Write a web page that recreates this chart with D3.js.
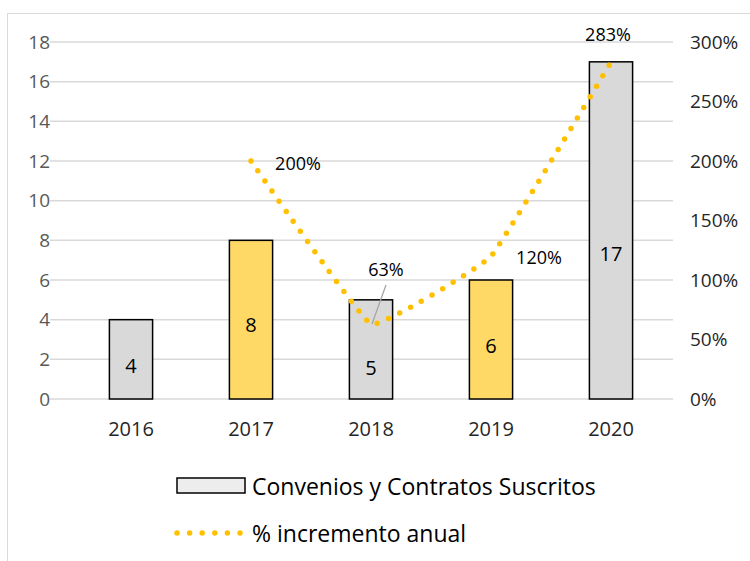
<!DOCTYPE html>
<html>
<head>
<meta charset="utf-8">
<script src="https://cdn.jsdelivr.net/npm/d3@7"></script>
<style>
  body { margin: 0; background: #fff; }
  text { font-family: "Open Sans", "Noto Sans", sans-serif; }
</style>
</head>
<body>
<div id="chart"></div>
<script>
// data
var years = ["2016", "2017", "2018", "2019", "2020"];
var convenios = [4, 8, 5, 6, 17];
var barColors = ["gray", "yellow", "gray", "yellow", "gray"];
var incrYears = ["2017", "2018", "2019", "2020"];
var incremento = [2.00, 0.63, 1.20, 2.83];
var leftTicks = [0, 2, 4, 6, 8, 10, 12, 14, 16, 18];
var rightTicks = [0, 0.5, 1, 1.5, 2, 2.5, 3];
var legendLabels = ["Convenios y Contratos Suscritos", "% incremento anual"];

var W = 750, H = 561;
var fills = { gray: "#D9D9D9", yellow: "#FFD966" };
var lineColor = "#FFC000";

var svg = d3.select("#chart").append("svg")
    .attr("width", W)
    .attr("height", H);

// chart frame
svg.append("rect")
    .attr("x", 7.5).attr("y", 13.5)
    .attr("width", 760).attr("height", 560)
    .style("fill", "none")
    .style("stroke", "#D9D9D9");

var x = d3.scaleBand()
    .domain(years)
    .range([71, 671])
    .paddingInner(0.64)
    .paddingOuter(0.32);

var yL = d3.scaleLinear().domain([0, 18]).range([399, 42]);
var yR = d3.scaleLinear().domain([0, 3]).range([399, 42]);

// gridlines
svg.append("g")
    .selectAll("line")
    .data(leftTicks)
    .enter()
    .append("line")
    .attr("x1", 50).attr("x2", 673)
    .attr("y1", function (d) { return yL(d); })
    .attr("y2", function (d) { return yL(d); })
    .style("stroke", "#D9D9D9")
    .style("stroke-width", 1.5);

// left axis
var axL = svg.append("g")
    .attr("transform", "translate(50,0)")
    .call(d3.axisLeft(yL).tickValues(leftTicks).tickSize(0).tickPadding(0));
axL.select(".domain").remove();
axL.selectAll("text")
    .attr("x", 0)
    .style("font-size", "19px")
    .style("fill", "#595959");

// right axis
var axR = svg.append("g")
    .attr("transform", "translate(690,0)")
    .call(d3.axisRight(yR).tickValues(rightTicks).tickSize(0).tickPadding(0)
        .tickFormat(function (d) { return Math.round(d * 100) + "%"; }));
axR.select(".domain").remove();
axR.selectAll("text")
    .style("font-size", "19px")
    .style("fill", "#262626");

// bottom axis
var axB = svg.append("g")
    .attr("transform", "translate(0,399)")
    .call(d3.axisBottom(x).tickSize(0).tickPadding(23));
axB.select(".domain").remove();
axB.selectAll("text")
    .style("font-size", "20px")
    .style("fill", "#262626");

// bars
var barData = years.map(function (y, i) {
    return { year: y, value: convenios[i], color: barColors[i] };
});
svg.append("g")
    .selectAll("rect")
    .data(barData)
    .enter()
    .append("rect")
    .attr("x", function (d) { return x(d.year); })
    .attr("y", function (d) { return yL(d.value); })
    .attr("width", x.bandwidth())
    .attr("height", function (d) { return yL(0) - yL(d.value); })
    .style("fill", function (d) { return fills[d.color]; })
    .style("stroke", "#000")
    .style("stroke-width", 1.5);

// bar labels (placed by hand like in the original)
var barLabelAt = [1.7, 3.75, 1.6, 2.7, 7.35];
svg.append("g")
    .selectAll("text")
    .data(barData)
    .enter()
    .append("text")
    .attr("x", function (d) { return x(d.year) + x.bandwidth() / 2; })
    .attr("y", function (d, i) { return yL(barLabelAt[i]); })
    .attr("text-anchor", "middle")
    .attr("dominant-baseline", "central")
    .style("font-size", "20px")
    .style("fill", "#000")
    .text(function (d) { return d.value; });

// increment line
var lineData = incrYears.map(function (y, i) {
    return { year: y, value: incremento[i] };
});
var line = d3.line()
    .x(function (d) { return x(d.year) + x.bandwidth() / 2; })
    .y(function (d) { return yR(d.value); })
    .curve(d3.curveCardinal.tension(0.75));

// leader line for 63%
var p18 = lineData[1];
svg.append("line")
    .attr("x1", x(p18.year) + x.bandwidth() / 2 + 1)
    .attr("y1", yR(p18.value))
    .attr("x2", x(p18.year) + x.bandwidth() / 2 + 15)
    .attr("y2", yR(p18.value) - 39)
    .style("stroke", "#A6A6A6")
    .style("stroke-width", 1.3);

svg.append("path")
    .datum(lineData)
    .attr("d", line)
    .style("fill", "none")
    .style("stroke", lineColor)
    .style("stroke-width", 5.5)
    .style("stroke-linecap", "round")
    .style("stroke-dasharray", "0 12.3");

// percent labels
var pctOffset = [[47, 2], [15, -55], [48, 1], [-3, -28]];
svg.append("g")
    .selectAll("text")
    .data(lineData)
    .enter()
    .append("text")
    .attr("x", function (d, i) { return x(d.year) + x.bandwidth() / 2 + pctOffset[i][0]; })
    .attr("y", function (d, i) { return yR(d.value) + pctOffset[i][1]; })
    .attr("text-anchor", "middle")
    .attr("dominant-baseline", "central")
    .style("font-size", "18px")
    .style("fill", "#000")
    .text(function (d) { return Math.round(d.value * 100) + "%"; });

// legend
var legend = svg.append("g");
legend.append("rect")
    .attr("x", 177).attr("y", 478)
    .attr("width", 68).attr("height", 15)
    .style("fill", "#EDEDED")
    .style("stroke", "#000")
    .style("stroke-width", 1.5);
legend.append("line")
    .attr("x1", 177).attr("x2", 241)
    .attr("y1", 533).attr("y2", 533)
    .style("stroke", lineColor)
    .style("stroke-width", 5.5)
    .style("stroke-linecap", "round")
    .style("stroke-dasharray", "0 12.6");
legend.selectAll("text")
    .data(legendLabels)
    .enter()
    .append("text")
    .attr("x", 252)
    .attr("y", function (d, i) { return 486 + i * 47; })
    .attr("dominant-baseline", "central")
    .style("font-size", "23px")
    .style("fill", "#000")
    .text(function (d) { return d; });
</script>
</body>
</html>
